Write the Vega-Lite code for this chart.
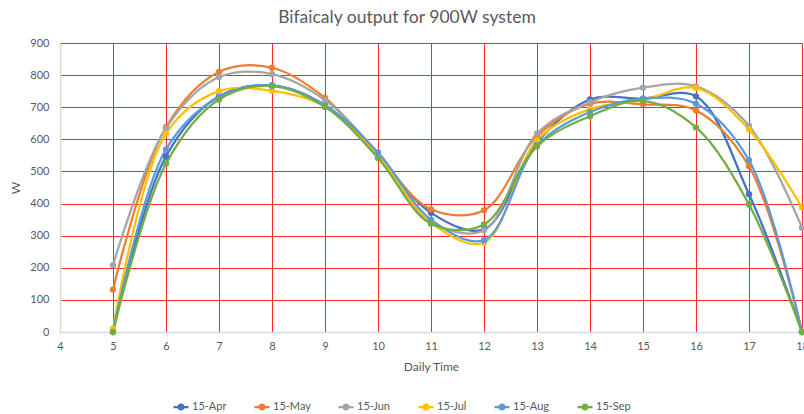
{
  "$schema": "https://vega.github.io/schema/vega-lite/v6.json",
  "autosize": "none",
  "width": 742,
  "height": 289,
  "padding": {"left": 60, "top": 43, "right": 2, "bottom": 82},
  "background": "white",
  "title": {"text": "Bifaicaly output for 900W system", "font": "Lato", "fontSize": 17.5, "fontWeight": "normal", "color": "#595959", "anchor": "middle", "dx": -24, "offset": 11},
  "config": {"view": {"stroke": null}},
  "data": {"values": [
    {"t":5,"m":"15-Apr","w":0},{"t":6,"m":"15-Apr","w":547},{"t":7,"m":"15-Apr","w":734},{"t":8,"m":"15-Apr","w":768},{"t":9,"m":"15-Apr","w":706},{"t":10,"m":"15-Apr","w":548},{"t":11,"m":"15-Apr","w":371},{"t":12,"m":"15-Apr","w":320},{"t":13,"m":"15-Apr","w":590},{"t":14,"m":"15-Apr","w":724},{"t":15,"m":"15-Apr","w":727},{"t":16,"m":"15-Apr","w":734},{"t":17,"m":"15-Apr","w":429},{"t":18,"m":"15-Apr","w":0},
    {"t":5,"m":"15-May","w":132},{"t":6,"m":"15-May","w":638},{"t":7,"m":"15-May","w":810},{"t":8,"m":"15-May","w":823},{"t":9,"m":"15-May","w":729},{"t":10,"m":"15-May","w":550},{"t":11,"m":"15-May","w":382},{"t":12,"m":"15-May","w":379},{"t":13,"m":"15-May","w":610},{"t":14,"m":"15-May","w":711},{"t":15,"m":"15-May","w":709},{"t":16,"m":"15-May","w":690},{"t":17,"m":"15-May","w":516},{"t":18,"m":"15-May","w":0},
    {"t":5,"m":"15-Jun","w":208},{"t":6,"m":"15-Jun","w":635},{"t":7,"m":"15-Jun","w":794},{"t":8,"m":"15-Jun","w":803},{"t":9,"m":"15-Jun","w":722},{"t":10,"m":"15-Jun","w":556},{"t":11,"m":"15-Jun","w":343},{"t":12,"m":"15-Jun","w":317},{"t":13,"m":"15-Jun","w":618},{"t":14,"m":"15-Jun","w":716},{"t":15,"m":"15-Jun","w":761},{"t":16,"m":"15-Jun","w":765},{"t":17,"m":"15-Jun","w":642},{"t":18,"m":"15-Jun","w":325},
    {"t":5,"m":"15-Jul","w":10},{"t":6,"m":"15-Jul","w":618},{"t":7,"m":"15-Jul","w":750},{"t":8,"m":"15-Jul","w":751},{"t":9,"m":"15-Jul","w":703},{"t":10,"m":"15-Jul","w":548},{"t":11,"m":"15-Jul","w":340},{"t":12,"m":"15-Jul","w":278},{"t":13,"m":"15-Jul","w":597},{"t":14,"m":"15-Jul","w":694},{"t":15,"m":"15-Jul","w":722},{"t":16,"m":"15-Jul","w":760},{"t":17,"m":"15-Jul","w":631},{"t":18,"m":"15-Jul","w":388},
    {"t":5,"m":"15-Aug","w":0},{"t":6,"m":"15-Aug","w":569},{"t":7,"m":"15-Aug","w":732},{"t":8,"m":"15-Aug","w":768},{"t":9,"m":"15-Aug","w":706},{"t":10,"m":"15-Aug","w":559},{"t":11,"m":"15-Aug","w":350},{"t":12,"m":"15-Aug","w":286},{"t":13,"m":"15-Aug","w":581},{"t":14,"m":"15-Aug","w":685},{"t":15,"m":"15-Aug","w":727},{"t":16,"m":"15-Aug","w":711},{"t":17,"m":"15-Aug","w":535},{"t":18,"m":"15-Aug","w":0},
    {"t":5,"m":"15-Sep","w":0},{"t":6,"m":"15-Sep","w":524},{"t":7,"m":"15-Sep","w":724},{"t":8,"m":"15-Sep","w":766},{"t":9,"m":"15-Sep","w":701},{"t":10,"m":"15-Sep","w":542},{"t":11,"m":"15-Sep","w":337},{"t":12,"m":"15-Sep","w":335},{"t":13,"m":"15-Sep","w":578},{"t":14,"m":"15-Sep","w":672},{"t":15,"m":"15-Sep","w":720},{"t":16,"m":"15-Sep","w":637},{"t":17,"m":"15-Sep","w":397},{"t":18,"m":"15-Sep","w":0}
  ]},
  "mark": {"type": "line", "interpolate": "catmull-rom", "strokeWidth": 2.25, "point": {"filled": true, "size": 40}, "clip": false},
  "encoding": {
    "x": {"field": "t", "type": "quantitative", "title": "Daily Time",
      "scale": {"domain": [4, 18], "nice": false, "zero": false},
      "axis": {"values": [4,5,6,7,8,9,10,11,12,13,14,15,16,17,18], "grid": true, "gridColor": "#FF0000", "gridOpacity": 0.85, "gridWidth": 1, "ticks": false, "domainColor": "#D9D9D9", "domainWidth": 1.5, "labelFont": "Lato", "labelFontSize": 11, "labelColor": "#595959", "labelPadding": 8, "titleFont": "Lato", "titleFontSize": 12, "titleFontWeight": "normal", "titleColor": "#595959", "titlePadding": 10, "labelFlush": false}},
    "y": {"field": "w", "type": "quantitative", "title": "W",
      "scale": {"domain": [0, 900], "nice": false},
      "axis": {"values": [0,100,200,300,400,500,600,700,800,900], "grid": true, "gridColor": "#FF0000", "gridOpacity": 0.85, "gridWidth": 1, "ticks": false, "domain": true, "domainColor": "#D9D9D9", "domainWidth": 1.5, "labelFont": "Lato", "labelFontSize": 11, "labelColor": "#595959", "labelPadding": 11, "titleFont": "Lato", "titleFontSize": 12, "titleFontWeight": "normal", "titleColor": "#595959", "titlePadding": 7}},
    "color": {"field": "m", "type": "nominal", "title": null,
      "scale": {"domain": ["15-Apr","15-May","15-Jun","15-Jul","15-Aug","15-Sep"], "range": ["#4472C4","#ED7D31","#A5A5A5","#FFC000","#5B9BD5","#70AD47"]},
      "legend": {"orient": "none", "legendX": 112, "legendY": 355, "direction": "horizontal", "columns": 6, "columnPadding": 23,
        "symbolType": "M-1,0L1,0M-0.33,0A0.33,0.33,0,1,0,0.33,0A0.33,0.33,0,1,0,-0.33,0", "symbolSize": 225, "symbolStrokeWidth": 2.25,
        "labelFont": "Lato", "labelFontSize": 11, "labelColor": "#595959", "labelOffset": 2,
        "encode": {"symbols": {"update": {"fill": {"scale": "color", "field": "value"}, "fillOpacity": {"value": 1}}}}}}
  }
}
